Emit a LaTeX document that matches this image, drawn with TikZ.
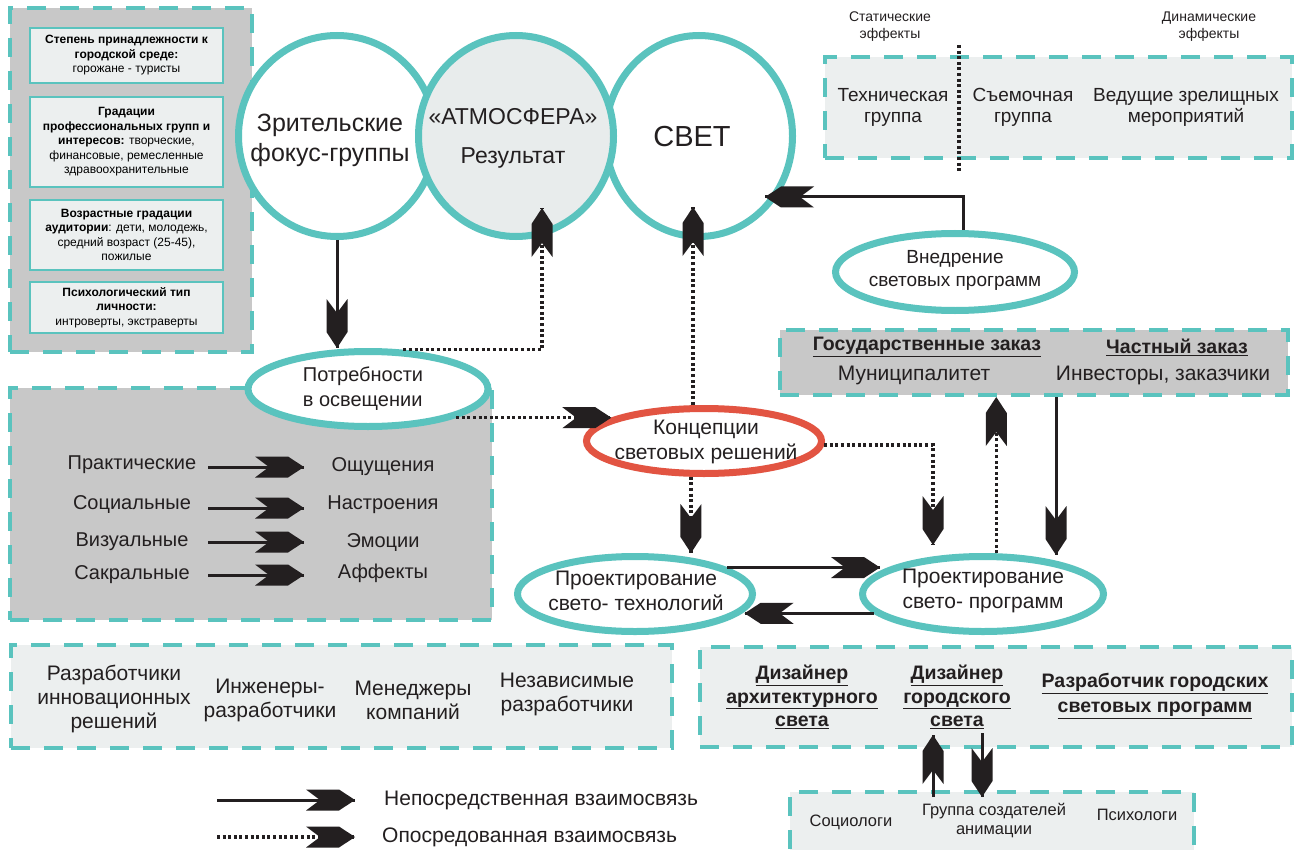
\documentclass[tikz,border=0pt]{standalone}
\usepackage{fontspec}
\setmainfont{Liberation Sans}
\usetikzlibrary{shapes.geometric,decorations.markings,calc}
\definecolor{teal1}{RGB}{90,195,190}
\definecolor{gfill}{RGB}{200,200,200}
\definecolor{lfill}{RGB}{236,239,239}
\definecolor{cfill}{RGB}{232,236,236}
\definecolor{redc}{RGB}{226,84,66}
\definecolor{ink}{RGB}{35,31,32}
\newcommand{\fsz}[2]{\fontsize{#1}{#2}\selectfont}
\tikzset{
  head/.style={postaction={decorate,decoration={markings,mark=at position 1 with {\fill[ink] (0,0) -- (-16,-10.5) -- (-49,-10.5) -- (-35,0) -- (-49,10.5) -- (-16,10.5) -- cycle;}}}},
  solidarrow/.style={draw=ink,line width=3pt,head},
  dotarrow/.style={draw=ink,line width=3.5pt,dash pattern=on 3pt off 2.6pt,head},
  dotline/.style={draw=ink,line width=3.5pt,dash pattern=on 3pt off 2.6pt},
  dbox/.style={rectangle,draw=teal1,line width=4pt,dash pattern=on 19pt off 14pt,inner sep=0pt},
  ibox/.style={rectangle,draw=teal1,line width=1.3pt,fill=lfill,align=center,inner sep=0pt,font=\fsz{12}{14.5}},
  ring/.style={ellipse,draw=teal1,line width=7pt,fill=white,inner sep=0pt},
  txt/.style={align=center,inner sep=0pt,text=ink},
}
\begin{document}
\begin{tikzpicture}[x=1pt,y=-1pt]
\clip (0,0) rectangle (1305,850);
\fill[white] (0,0) rectangle (1305,850);

% ---------- top-left box
\node[dbox,fill=gfill,minimum width=242pt,minimum height=344pt] (tlbox) at (131,180) {};
\node[ibox,minimum width=193pt,minimum height=55pt] (b1) at (126.5,55.5)
  {\textbf{Степень принадлежности к}\\\textbf{городской среде:}\\горожане - туристы};
\node[ibox,minimum width=193pt,minimum height=90pt] (b2) at (126.5,142)
  {\textbf{Градации}\\\textbf{профессиональных групп и}\\\textbf{интересов:} творческие,\\финансовые, ремесленные\\здравоохранительные};
\node[ibox,minimum width=193pt,minimum height=70pt] (b3) at (126.5,235)
  {\textbf{Возрастные градации}\\\textbf{аудитории}: дети, молодежь,\\средний возраст (25-45),\\пожилые};
\node[ibox,minimum width=193pt,minimum height=51pt] (b4) at (126.5,307.5)
  {\textbf{Психологический тип}\\\textbf{личности:}\\интроверты, экстраверты};

% ---------- circles
\node[ring,minimum width=197pt,minimum height=201pt] (c1) at (337,136) {};
\node[ring,minimum width=187pt,minimum height=201pt] (c3) at (699,136) {};
\node[ring,fill=cfill,minimum width=195pt,minimum height=201pt] (c2) at (516,136) {};
\node[txt,font=\fsz{25}{30}] (zr) at (330,140) {Зрительские\\фокус-группы};
\node[txt,font=\fsz{23}{39}] (atm) at (513,138) {«АТМОСФЕРА»\\Результат};
\node[txt,font=\fsz{29}{34}] (svet) at (692,137) {СВЕТ};

% ---------- top-right box
\node[dbox,fill=lfill,minimum width=467pt,minimum height=101pt] (trbox) at (1058.5,107.5) {};
\node[txt,font=\fsz{19}{21}] (tech1) at (893,107) {Техническая\\группа};
\node[txt,font=\fsz{19}{21}] (sem) at (1023,107) {Съемочная\\группа};
\node[txt,font=\fsz{19}{21}] (ved) at (1186,107) {Ведущие зрелищных\\мероприятий};
\node[txt,font=\fsz{14}{17}] (stat) at (890,27) {Статические\\эффекты};
\node[txt,font=\fsz{14}{17}] (dyn) at (1209,27) {Динамические\\эффекты};
\coordinate (sep1) at (959,45);
\coordinate (sep2) at (959,173);
\draw[dotline] (sep1) -- (sep2);

% ---------- Внедрение
\node[ring,minimum width=239pt,minimum height=77pt] (vn) at (955,272) {};
\node[txt,font=\fsz{19}{23}] (vnt) at (955,270) {Внедрение\\световых программ};

% ---------- bottom-left gray box
\node[dbox,fill=gfill,minimum width=482pt,minimum height=232pt] (blbox) at (251,504) {};
\node[txt,font=\fsz{20}{24}] (pr) at (132,465) {Практические};
\node[txt,font=\fsz{20}{24}] (so) at (132,505) {Социальные};
\node[txt,font=\fsz{20}{24}] (vi) at (132,542) {Визуальные};
\node[txt,font=\fsz{20}{24}] (sa) at (132,575) {Сакральные};
\node[txt,font=\fsz{20}{24}] (os) at (383,467) {Ощущения};
\node[txt,font=\fsz{20}{24}] (na) at (383,505) {Настроения};
\node[txt,font=\fsz{20}{24}] (em) at (383,543) {Эмоции};
\node[txt,font=\fsz{20}{24}] (af) at (383,573) {Аффекты};
\coordinate (a1s) at (208,467); \coordinate (a1e) at (304,467);
\coordinate (a2s) at (208,508); \coordinate (a2e) at (304,508);
\coordinate (a3s) at (208,542); \coordinate (a3e) at (304,542);
\coordinate (a4s) at (208,575); \coordinate (a4e) at (304,575);
\draw[solidarrow] (a1s) -- (a1e);
\draw[solidarrow] (a2s) -- (a2e);
\draw[solidarrow] (a3s) -- (a3e);
\draw[solidarrow] (a4s) -- (a4e);

% ---------- Потребности
\node[ring,minimum width=240pt,minimum height=75pt] (potr) at (368,389) {};
\node[txt,align=left,font=\fsz{20}{25}] (potrt) at (363,389) {Потребности\\в освещении};

% ---------- Концепции
\node[ring,draw=redc,minimum width=235pt,minimum height=65pt] (konc) at (704,441) {};
\node[txt,font=\fsz{21}{25}] (konct) at (706,442) {Концепции\\световых решений};

% ---------- Проектирование
\node[ring,minimum width=235pt,minimum height=75pt] (tech) at (635,594) {};
\node[txt,font=\fsz{21}{25}] (techt) at (636,591) {Проектирование\\свето- технологий};
\node[ring,minimum width=241pt,minimum height=75pt] (prog) at (983,594) {};
\node[txt,font=\fsz{21}{25}] (progt) at (983,591) {Проектирование\\свето- программ};

% ---------- Гос box
\node[dbox,fill=gfill,minimum width=508pt,minimum height=65pt] (gos) at (1034,362.5) {};
\node[txt,font=\fsz{19.5}{23}] (gos1) at (927,347) {\underline{\textbf{Государственные заказ}}};
\node[txt,font=\fsz{21}{24}] (gos2) at (914,375) {Муниципалитет};
\node[txt,font=\fsz{19.5}{23}] (ch1) at (1177,347) {\underline{\textbf{Частный заказ}}};
\node[txt,font=\fsz{21}{24}] (ch2) at (1163,375) {Инвесторы, заказчики};

% ---------- bottom boxes
\node[dbox,fill=lfill,minimum width=661pt,minimum height=103pt] (dev) at (341.5,696.5) {};
\node[txt,font=\fsz{21}{24}] (d1) at (114,699) {Разработчики\\инновационных\\решений};
\node[txt,font=\fsz{21}{24}] (d2) at (270,700) {Инженеры-\\разработчики};
\node[txt,font=\fsz{21}{24}] (d3) at (413,700) {Менеджеры\\компаний};
\node[txt,font=\fsz{21}{24}] (d4) at (567,694) {Независимые\\разработчики};

\node[dbox,fill=lfill,minimum width=592pt,minimum height=100pt] (des) at (996,697) {};
\node[txt,font=\bfseries\fsz{19.5}{23.5}] (e1) at (802,697) {\underline{Дизайнер}\\\underline{архитектурного}\\\underline{света}};
\node[txt,font=\bfseries\fsz{19.5}{23.5}] (e2) at (957,697) {\underline{Дизайнер}\\\underline{городского}\\\underline{света}};
\node[txt,font=\bfseries\fsz{19.5}{25}] (e3) at (1155,696) {\underline{Разработчик городских}\\\underline{световых программ}};

\node[dbox,fill=lfill,minimum width=404pt,minimum height=78pt] (grp) at (992,831) {};
\node[txt,font=\fsz{16.5}{19}] (g1) at (851,822) {Социологи};
\node[txt,font=\fsz{16.5}{19}] (g2) at (994,821) {Группа создателей\\анимации};
\node[txt,font=\fsz{16.5}{19}] (g3) at (1137,815) {Психологи};

% ---------- connectors
\draw[solidarrow] (c1.south) -- (c1.south |- potr.north);
\coordinate (atmin) at (542,208);
\draw[dotarrow] (potr.48) -| (atmin);
\draw[dotarrow] (potr.-18) -- (potr.-18 -| konc.166);
\coordinate (svin) at (693,207);
\draw[dotarrow] (svin |- konc.north) -- (svin);
\draw[dotarrow] (konc.-110) -- (konc.-110 |- tech.north);
\coordinate (progin) at (933,545);
\draw[dotarrow] (konc.-2) -| (progin);
\coordinate (tp) at (880,568);
\draw[solidarrow] (tech.16) -- (tech.16 -| tp);
\draw[solidarrow] (prog.-170) -- (prog.-170 -| tech.-9);
\draw[dotarrow] (prog.72) -- (prog.72 |- gos.south);
\coordinate (gp) at (1056,555);
\draw[solidarrow] (gp |- gos.south) -- (gp);
\coordinate (vsin) at (765,197);
\draw[solidarrow] (vn.78) |- (vsin);
\coordinate (u1) at (933,797); \coordinate (u2) at (933,735);
\coordinate (w1) at (982,733); \coordinate (w2) at (982,797);
\draw[solidarrow] (u1) -- (u2);
\draw[solidarrow] (w1) -- (w2);

% ---------- legend
\coordinate (l1a) at (217,800); \coordinate (l1b) at (355,800);
\coordinate (l2a) at (217,837); \coordinate (l2b) at (355,837);
\draw[solidarrow] (l1a) -- (l1b);
\draw[dotarrow] (l2a) -- (l2b);
\node[txt,anchor=west,font=\fsz{21}{24}] (leg1) at (384,800) {Непосредственная взаимосвязь};
\node[txt,anchor=west,font=\fsz{21}{24}] (leg2) at (382,837) {Опосредованная взаимосвязь};
\end{tikzpicture}
\end{document}
